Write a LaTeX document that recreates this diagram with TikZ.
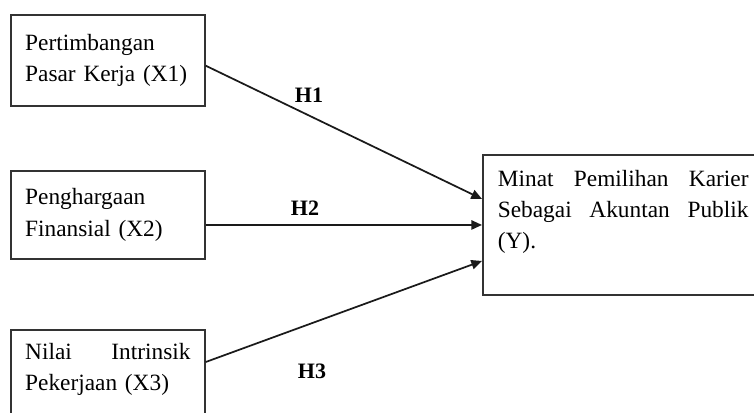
\documentclass[tikz,border=0pt]{standalone}
\usepackage{fontspec}
\setmainfont{Liberation Serif}
\usetikzlibrary{positioning,arrows.meta,calc}
\definecolor{lineblk}{HTML}{1A1A1A}
\definecolor{boxedge}{HTML}{333333}

\begin{document}
\begin{tikzpicture}[x=0.75pt,y=-0.75pt,
  varbox/.style={draw=boxedge,line width=1.3pt,anchor=north west,align=left,
    text width=124pt,inner xsep=10.75pt,font=\fontsize{17.5}{23.5}\selectfont},
  hyparrow/.style={draw=lineblk,line width=1.3pt,-{Triangle[length=8pt,width=7pt]}},
  hyplabel/.style={font=\fontsize{16.5}{20}\selectfont\bfseries}]
  \useasboundingbox (0,0) rectangle (754,412);
  \clip (0,0) rectangle (754,412);
  % variabel independen
  \node[varbox,minimum height=68.25pt] (x1) at (10,14) {Pertimbangan\\Pasar Kerja (X1)};
  \node[varbox,minimum height=66pt] (x2) at (10,170) {Penghargaan\\Finansial (X2)};
  \node[varbox,inner ysep=9.75pt] (x3) at (10,329)
    {Nilai \hfill Intrinsik\\Pekerjaan (X3)\rule[-30pt]{0pt}{30pt}};
  % variabel dependen
  \node[varbox,text width=188pt,inner xsep=11.25pt,inner ysep=11.25pt] (y) at (482,154)
    {Minat \hfill Pemilihan \hfill Karier\\Sebagai \hfill Akuntan \hfill Publik\\(Y).\rule[-23.5pt]{0pt}{23.5pt}};
  % hipotesis
  \draw[hyparrow] ([yshift=-4pt]x1.east) -- ([yshift=19.5pt]y.west);
  \draw[hyparrow] (x2.east |- y.west) -- (y.west);
  \draw[hyparrow] ([yshift=-24.75pt]x3.north east) -- ([yshift=-27pt]y.west);
  \node[hyplabel] (h1) at (309,95) {H1};
  \node[hyplabel] (h2) at (305,208) {H2};
  \node[hyplabel] (h3) at (312,371) {H3};
\end{tikzpicture}
\end{document}
